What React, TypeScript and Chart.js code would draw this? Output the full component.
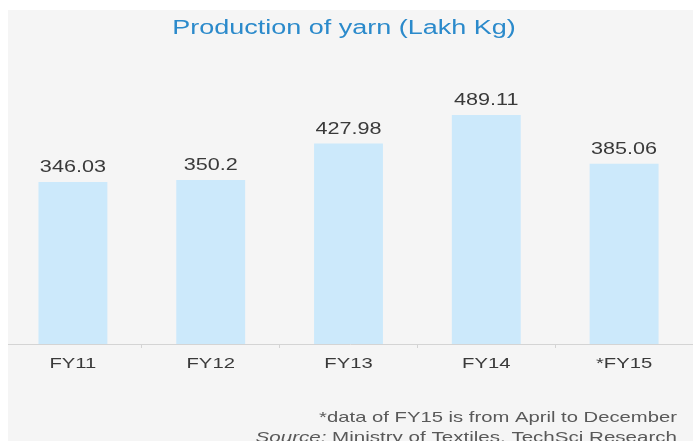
import React, { useEffect, useRef } from "react";
import { Chart, registerables } from "chart.js";

Chart.register(...registerables);

const categories = ["FY11", "FY12", "FY13", "FY14", "*FY15"];
const production = [346.03, 350.2, 427.98, 489.11, 385.06];
const valueLabels = ["346.03", "350.2", "427.98", "489.11", "385.06"];
const titleText = "Production of yarn (Lakh Kg)";
const footnoteText = "*data of FY15 is from April to December";
const sourceLabel = "Source:";
const sourceText = " Ministry of Textiles, TechSci Research";

const SX = 1.35;
const FONT = "'Liberation Sans', Arial, sans-serif";

function drawStretched(
  ctx: CanvasRenderingContext2D,
  text: string,
  x: number,
  y: number,
  align: CanvasTextAlign,
  font: string,
  color: string,
  sx: number = SX
) {
  ctx.save();
  ctx.translate(x, y);
  ctx.scale(sx, 1);
  ctx.font = font;
  ctx.fillStyle = color;
  ctx.textAlign = align;
  ctx.textBaseline = "alphabetic";
  ctx.fillText(text, 0, 0);
  ctx.restore();
}

const decorPlugin = {
  id: "decor",
  beforeDraw(chart: any) {
    const ctx = chart.ctx as CanvasRenderingContext2D;
    const w = chart.width;
    const h = chart.height;
    ctx.save();
    ctx.fillStyle = "#ffffff";
    ctx.fillRect(0, 0, w, h);
    ctx.fillStyle = "#f5f5f5";
    ctx.fillRect(8, 10, w - 8, h - 10);
    ctx.restore();
  },
  afterDatasetsDraw(chart: any) {
    const ctx = chart.ctx as CanvasRenderingContext2D;
    const meta = chart.getDatasetMeta(0);
    meta.data.forEach((el: any, i: number) => {
      drawStretched(ctx, valueLabels[i], el.x, el.y - 10, "center", `16px ${FONT}`, "#3a3a3a");
    });
  },
  afterDraw(chart: any) {
    const ctx = chart.ctx as CanvasRenderingContext2D;
    const area = chart.chartArea;
    const xs = chart.scales.x;
    // axis line
    ctx.save();
    ctx.strokeStyle = "#d4d4d4";
    ctx.lineWidth = 1;
    ctx.beginPath();
    const ly = Math.round(area.bottom) + 0.5;
    ctx.moveTo(8, ly);
    ctx.lineTo(chart.width, ly);
    ctx.stroke();
    ctx.restore();
    // title
    drawStretched(ctx, titleText, 344, 34, "center", `20px ${FONT}`, "#2b8acb");
    // category labels
    categories.forEach((c, i) => {
      const x = xs.getPixelForValue(i);
      drawStretched(ctx, c, x, area.bottom + 24, "center", `15px ${FONT}`, "#3a3a3a");
    });
    // footnotes
    const right = 677;
    drawStretched(ctx, footnoteText, right, 422, "right", `15px ${FONT}`, "#595959");
    const sx2 = 1.37;
    ctx.save();
    ctx.font = `15px ${FONT}`;
    const wPlain = ctx.measureText(sourceText).width * sx2;
    ctx.restore();
    drawStretched(ctx, sourceText, right, 442, "right", `15px ${FONT}`, "#595959", sx2);
    drawStretched(ctx, sourceLabel, right - wPlain, 442, "right", `italic 15px ${FONT}`, "#595959", sx2);
  },
};

export default function App() {
  const ref = useRef<HTMLCanvasElement | null>(null);
  useEffect(() => {
    document.body.style.margin = "0";
    const canvas = ref.current;
    if (!canvas) return;
    const chart = new Chart(canvas, {
      type: "bar",
      data: {
        labels: categories,
        datasets: [
          {
            data: production,
            backgroundColor: "#cce9fb",
            borderWidth: 0,
            categoryPercentage: 1,
            barPercentage: 0.5,
          },
        ],
      },
      options: {
        responsive: false,
        animation: false,
        devicePixelRatio: 1,
        layout: { padding: { left: 4, right: 0, top: 63, bottom: 93 } },
        plugins: {
          legend: { display: false },
          title: { display: false },
          tooltip: { enabled: false },
        },
        scales: {
          x: {
            ticks: { display: false },
            grid: {
              offset: true,
              drawOnChartArea: false,
              drawTicks: true,
              tickLength: 4,
              color: (c: any) =>
                c.index === 0 || c.index === undefined ? "rgba(0,0,0,0)" : "#d4d4d4",
            },
            border: { display: false },
          },
          y: {
            display: false,
            min: 0,
            max: 600,
          },
        },
      },
      plugins: [decorPlugin],
    });
    return () => chart.destroy();
  }, []);
  return (
    <div style={{ width: 693, height: 441 }}>
      <canvas ref={ref} width={693} height={441} style={{ display: "block" }} />
    </div>
  );
}
